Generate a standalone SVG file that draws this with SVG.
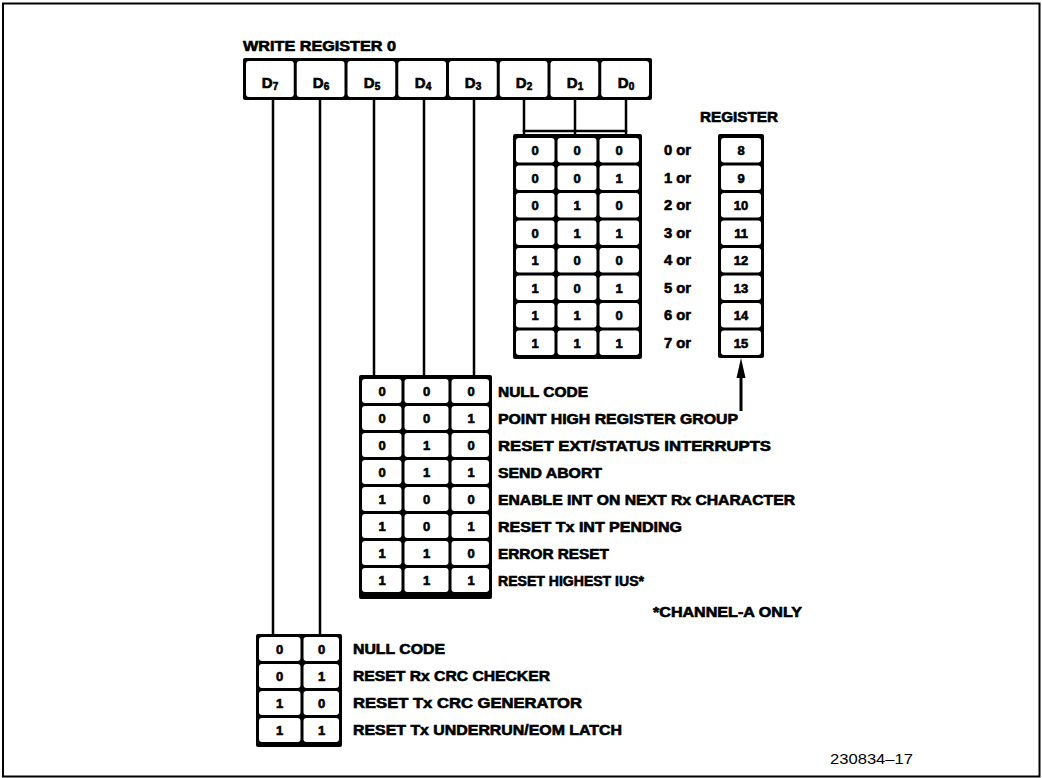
<svg xmlns="http://www.w3.org/2000/svg" width="1042" height="778" viewBox="0 0 1042 778">
<style>
.bg{fill:#000}
.c{fill:#fff}
.t{font-family:"Liberation Sans",Arial,Helvetica,sans-serif;font-weight:bold;font-size:14px;fill:#000;stroke:#000;stroke-width:0.6}
.n{font-size:13px;text-anchor:middle}
.d{font-size:15px;text-anchor:middle}
.ln{stroke:#000;stroke-width:2.5;fill:none}
.sub{font-size:10px}
</style>
<rect x="3" y="3.5" width="1036.5" height="773" fill="#fff" stroke="#000" stroke-width="2"/>
<text class="t" x="243" y="51" textLength="153" lengthAdjust="spacingAndGlyphs">WRITE REGISTER 0</text>

<g id="header">
<rect class="bg" x="243" y="58" width="409" height="42" rx="2"/>
<rect class="c" x="246" y="61" width="47.75" height="36" rx="3"/>
<rect class="c" x="296.75" y="61" width="47.75" height="36" rx="3"/>
<rect class="c" x="347.5" y="61" width="47.75" height="36" rx="3"/>
<rect class="c" x="398.25" y="61" width="47.75" height="36" rx="3"/>
<rect class="c" x="449" y="61" width="47.75" height="36" rx="3"/>
<rect class="c" x="499.75" y="61" width="47.75" height="36" rx="3"/>
<rect class="c" x="550.5" y="61" width="47.75" height="36" rx="3"/>
<rect class="c" x="601.25" y="61" width="47.75" height="36" rx="3"/>
<text class="t d" x="270" y="88">D<tspan class="sub" dy="2">7</tspan></text>
<text class="t d" x="321" y="88">D<tspan class="sub" dy="2">6</tspan></text>
<text class="t d" x="372" y="88">D<tspan class="sub" dy="2">5</tspan></text>
<text class="t d" x="423" y="88">D<tspan class="sub" dy="2">4</tspan></text>
<text class="t d" x="473" y="88">D<tspan class="sub" dy="2">3</tspan></text>
<text class="t d" x="524" y="88">D<tspan class="sub" dy="2">2</tspan></text>
<text class="t d" x="575" y="88">D<tspan class="sub" dy="2">1</tspan></text>
<text class="t d" x="626" y="88">D<tspan class="sub" dy="2">0</tspan></text>
</g>

<g id="connectors">
<line class="ln" x1="273" y1="100" x2="273" y2="634"/>
<line class="ln" x1="320" y1="100" x2="320" y2="634"/>
<line class="ln" x1="374" y1="100" x2="374" y2="375"/>
<line class="ln" x1="424" y1="100" x2="424" y2="375"/>
<line class="ln" x1="474" y1="100" x2="474" y2="375"/>
<line class="ln" x1="524" y1="100" x2="524" y2="134"/>
<line class="ln" x1="575" y1="100" x2="575" y2="134"/>
<line class="ln" x1="626" y1="100" x2="626" y2="134"/>
<line class="ln" x1="522.75" y1="131" x2="627.25" y2="131"/>
<line stroke="#000" stroke-width="3" x1="741" y1="374" x2="741" y2="411"/>
<polygon points="741,358 736.5,378 745.5,378" fill="#000"/>
</g>

<g id="select-table">
<rect class="bg" x="513" y="134" width="129" height="225" rx="2"/>
<g class="c">
<rect x="516" y="138" width="38.5" height="24.5" rx="3"/><rect x="557.5" y="138" width="39" height="24.5" rx="3"/><rect x="599.5" y="138" width="39.5" height="24.5" rx="3"/>
<rect x="516" y="165.5" width="38.5" height="24.5" rx="3"/><rect x="557.5" y="165.5" width="39" height="24.5" rx="3"/><rect x="599.5" y="165.5" width="39.5" height="24.5" rx="3"/>
<rect x="516" y="193" width="38.5" height="24.5" rx="3"/><rect x="557.5" y="193" width="39" height="24.5" rx="3"/><rect x="599.5" y="193" width="39.5" height="24.5" rx="3"/>
<rect x="516" y="220.5" width="38.5" height="24.5" rx="3"/><rect x="557.5" y="220.5" width="39" height="24.5" rx="3"/><rect x="599.5" y="220.5" width="39.5" height="24.5" rx="3"/>
<rect x="516" y="248" width="38.5" height="24.5" rx="3"/><rect x="557.5" y="248" width="39" height="24.5" rx="3"/><rect x="599.5" y="248" width="39.5" height="24.5" rx="3"/>
<rect x="516" y="275.5" width="38.5" height="24.5" rx="3"/><rect x="557.5" y="275.5" width="39" height="24.5" rx="3"/><rect x="599.5" y="275.5" width="39.5" height="24.5" rx="3"/>
<rect x="516" y="303" width="38.5" height="24.5" rx="3"/><rect x="557.5" y="303" width="39" height="24.5" rx="3"/><rect x="599.5" y="303" width="39.5" height="24.5" rx="3"/>
<rect x="516" y="330.5" width="38.5" height="24.5" rx="3"/><rect x="557.5" y="330.5" width="39" height="24.5" rx="3"/><rect x="599.5" y="330.5" width="39.5" height="24.5" rx="3"/>
</g>
<g class="t n">
<text x="535" y="155">0</text><text x="577" y="155">0</text><text x="619" y="155">0</text>
<text x="535" y="182.5">0</text><text x="577" y="182.5">0</text><text x="619" y="182.5">1</text>
<text x="535" y="210">0</text><text x="577" y="210">1</text><text x="619" y="210">0</text>
<text x="535" y="237.5">0</text><text x="577" y="237.5">1</text><text x="619" y="237.5">1</text>
<text x="535" y="265">1</text><text x="577" y="265">0</text><text x="619" y="265">0</text>
<text x="535" y="292.5">1</text><text x="577" y="292.5">0</text><text x="619" y="292.5">1</text>
<text x="535" y="320">1</text><text x="577" y="320">1</text><text x="619" y="320">0</text>
<text x="535" y="347.5">1</text><text x="577" y="347.5">1</text><text x="619" y="347.5">1</text>
</g>
<g class="t" font-size="13">
<text x="664" y="155" textLength="27" lengthAdjust="spacingAndGlyphs">0 or</text>
<text x="664" y="182.5" textLength="27" lengthAdjust="spacingAndGlyphs">1 or</text>
<text x="664" y="210" textLength="27" lengthAdjust="spacingAndGlyphs">2 or</text>
<text x="664" y="237.5" textLength="27" lengthAdjust="spacingAndGlyphs">3 or</text>
<text x="664" y="265" textLength="27" lengthAdjust="spacingAndGlyphs">4 or</text>
<text x="664" y="292.5" textLength="27" lengthAdjust="spacingAndGlyphs">5 or</text>
<text x="664" y="320" textLength="27" lengthAdjust="spacingAndGlyphs">6 or</text>
<text x="664" y="347.5" textLength="27" lengthAdjust="spacingAndGlyphs">7 or</text>
</g>
</g>

<g id="register-column">
<text class="t" x="700" y="122" textLength="78" lengthAdjust="spacingAndGlyphs">REGISTER</text>
<rect class="bg" x="718" y="134" width="46" height="224" rx="2"/>
<g class="c">
<rect x="721" y="138" width="40" height="24.5" rx="3"/>
<rect x="721" y="165.5" width="40" height="24.5" rx="3"/>
<rect x="721" y="193" width="40" height="24.5" rx="3"/>
<rect x="721" y="220.5" width="40" height="24.5" rx="3"/>
<rect x="721" y="248" width="40" height="24.5" rx="3"/>
<rect x="721" y="275.5" width="40" height="24.5" rx="3"/>
<rect x="721" y="303" width="40" height="24.5" rx="3"/>
<rect x="721" y="330.5" width="40" height="24.5" rx="3"/>
</g>
<g class="t n">
<text x="741" y="155">8</text>
<text x="741" y="182.5">9</text>
<text x="741" y="210">10</text>
<text x="741" y="237.5">11</text>
<text x="741" y="265">12</text>
<text x="741" y="292.5">13</text>
<text x="741" y="320">14</text>
<text x="741" y="347.5">15</text>
</g>
</g>

<g id="command-table">
<rect class="bg" x="359" y="375" width="133" height="224" rx="2"/>
<g class="c">
<rect x="362" y="379" width="39.5" height="24" rx="3"/><rect x="404.5" y="379" width="44" height="24" rx="3"/><rect x="451.5" y="379" width="37.5" height="24" rx="3"/>
<rect x="362" y="406" width="39.5" height="24" rx="3"/><rect x="404.5" y="406" width="44" height="24" rx="3"/><rect x="451.5" y="406" width="37.5" height="24" rx="3"/>
<rect x="362" y="433" width="39.5" height="24" rx="3"/><rect x="404.5" y="433" width="44" height="24" rx="3"/><rect x="451.5" y="433" width="37.5" height="24" rx="3"/>
<rect x="362" y="460" width="39.5" height="24" rx="3"/><rect x="404.5" y="460" width="44" height="24" rx="3"/><rect x="451.5" y="460" width="37.5" height="24" rx="3"/>
<rect x="362" y="487" width="39.5" height="24" rx="3"/><rect x="404.5" y="487" width="44" height="24" rx="3"/><rect x="451.5" y="487" width="37.5" height="24" rx="3"/>
<rect x="362" y="514" width="39.5" height="24" rx="3"/><rect x="404.5" y="514" width="44" height="24" rx="3"/><rect x="451.5" y="514" width="37.5" height="24" rx="3"/>
<rect x="362" y="541" width="39.5" height="24" rx="3"/><rect x="404.5" y="541" width="44" height="24" rx="3"/><rect x="451.5" y="541" width="37.5" height="24" rx="3"/>
<rect x="362" y="568" width="39.5" height="24" rx="3"/><rect x="404.5" y="568" width="44" height="24" rx="3"/><rect x="451.5" y="568" width="37.5" height="24" rx="3"/>
</g>
<g class="t n">
<text x="382" y="396">0</text><text x="426.5" y="396">0</text><text x="471" y="396">0</text>
<text x="382" y="423">0</text><text x="426.5" y="423">0</text><text x="471" y="423">1</text>
<text x="382" y="450">0</text><text x="426.5" y="450">1</text><text x="471" y="450">0</text>
<text x="382" y="477">0</text><text x="426.5" y="477">1</text><text x="471" y="477">1</text>
<text x="382" y="504">1</text><text x="426.5" y="504">0</text><text x="471" y="504">0</text>
<text x="382" y="531">1</text><text x="426.5" y="531">0</text><text x="471" y="531">1</text>
<text x="382" y="558">1</text><text x="426.5" y="558">1</text><text x="471" y="558">0</text>
<text x="382" y="585">1</text><text x="426.5" y="585">1</text><text x="471" y="585">1</text>
</g>
<g class="t">
<text x="498" y="396.5" textLength="90" lengthAdjust="spacingAndGlyphs">NULL CODE</text>
<text x="498" y="423.5" textLength="240" lengthAdjust="spacingAndGlyphs">POINT HIGH REGISTER GROUP</text>
<text x="498" y="450.5" textLength="273" lengthAdjust="spacingAndGlyphs">RESET EXT/STATUS INTERRUPTS</text>
<text x="498" y="477.5" textLength="104" lengthAdjust="spacingAndGlyphs">SEND ABORT</text>
<text x="498" y="504.5" textLength="297" lengthAdjust="spacingAndGlyphs">ENABLE INT ON NEXT Rx CHARACTER</text>
<text x="498" y="531.5" textLength="184" lengthAdjust="spacingAndGlyphs">RESET Tx INT PENDING</text>
<text x="498" y="558.5" textLength="111" lengthAdjust="spacingAndGlyphs">ERROR RESET</text>
<text x="498" y="585.5" textLength="146" lengthAdjust="spacingAndGlyphs">RESET HIGHEST IUS*</text>
</g>
<text class="t" x="653" y="617" textLength="149" lengthAdjust="spacingAndGlyphs">*CHANNEL-A ONLY</text>
</g>

<g id="crc-table">
<rect class="bg" x="256" y="634" width="86" height="113" rx="2"/>
<g class="c">
<rect x="259" y="637" width="41.5" height="24" rx="3"/><rect x="303.5" y="637" width="35.5" height="24" rx="3"/>
<rect x="259" y="664" width="41.5" height="24" rx="3"/><rect x="303.5" y="664" width="35.5" height="24" rx="3"/>
<rect x="259" y="691" width="41.5" height="24" rx="3"/><rect x="303.5" y="691" width="35.5" height="24" rx="3"/>
<rect x="259" y="718" width="41.5" height="24" rx="3"/><rect x="303.5" y="718" width="35.5" height="24" rx="3"/>
</g>
<g class="t n">
<text x="279.5" y="654">0</text><text x="321.5" y="654">0</text>
<text x="279.5" y="681">0</text><text x="321.5" y="681">1</text>
<text x="279.5" y="708">1</text><text x="321.5" y="708">0</text>
<text x="279.5" y="735">1</text><text x="321.5" y="735">1</text>
</g>
<g class="t">
<text x="353" y="654" textLength="92" lengthAdjust="spacingAndGlyphs">NULL CODE</text>
<text x="353" y="681" textLength="197" lengthAdjust="spacingAndGlyphs">RESET Rx CRC CHECKER</text>
<text x="353" y="708" textLength="229" lengthAdjust="spacingAndGlyphs">RESET Tx CRC GENERATOR</text>
<text x="353" y="735" textLength="269" lengthAdjust="spacingAndGlyphs">RESET Tx UNDERRUN/EOM LATCH</text>
</g>
</g>

<text x="830" y="764" font-family="Liberation Sans,Arial,sans-serif" font-size="14" fill="#000" textLength="83" lengthAdjust="spacingAndGlyphs">230834–17</text>
</svg>
